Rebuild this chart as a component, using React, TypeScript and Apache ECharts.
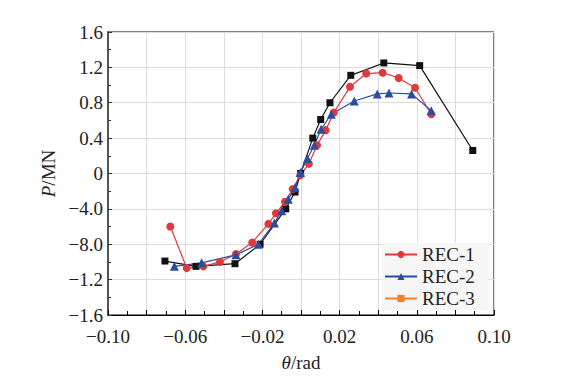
import React, { useEffect, useRef } from "react";
import * as echarts from "echarts";

const seriesNames = ["REC-1", "REC-2", "REC-3"];

const rec1: [number, number][] = [
  [-0.0677, -0.6], [-0.0592, -1.07], [-0.0506, -1.05], [-0.042, -1.0], [-0.0337, -0.91],
  [-0.0253, -0.78], [-0.0169, -0.57], [-0.013, -0.45], [-0.0083, -0.32], [-0.0043, -0.175],
  [-0.0004, -0.02], [0.0041, 0.11], [0.0083, 0.32], [0.0128, 0.49], [0.017, 0.69],
  [0.0254, 0.98], [0.0338, 1.13], [0.0423, 1.14], [0.0506, 1.08], [0.0591, 0.97], [0.0675, 0.67],
];

const rec2: [number, number][] = [
  [-0.0656, -1.05], [-0.0515, -1.01], [-0.0337, -0.92], [-0.0221, -0.8], [-0.0138, -0.56],
  [-0.01, -0.42], [-0.0066, -0.29], [-0.0031, -0.16], [-0.0003, 0.01], [0.0033, 0.17],
  [0.0069, 0.32], [0.0104, 0.5], [0.0157, 0.67], [0.0276, 0.82], [0.0395, 0.9],
  [0.0456, 0.91], [0.0573, 0.9], [0.0675, 0.71],
];

const rec3: [number, number][] = [
  [-0.0705, -0.99], [-0.0544, -1.05], [-0.0342, -1.02], [-0.0212, -0.8], [-0.0079, -0.4],
  [-0.0031, -0.21], [-0.0002, 0.0], [0.0061, 0.4], [0.0102, 0.61], [0.015, 0.8],
  [0.0258, 1.11], [0.0429, 1.25], [0.0615, 1.22], [0.089, 0.26],
];

const xTickLabels = ["\u22120.10", "", "\u22120.06", "", "\u22120.02", "", "0.02", "", "0.06", "", "0.10"];
const yTickLabels = ["\u22121.6", "\u22121.2", "\u22128.0", "\u22124.0", "0", "0.4", "0.8", "1.2", "1.6"];

const FONT = "'Liberation Serif', 'Times New Roman', serif";

export default function App() {
  const ref = useRef<HTMLDivElement>(null);
  useEffect(() => {
    if (!ref.current) return;
    const chart = echarts.init(ref.current, null, { renderer: "svg" });
    chart.setOption({
      animation: false,
      textStyle: { fontFamily: FONT },
      grid: {
        left: 108, right: 78, top: 32, bottom: 65,
        show: true, borderColor: "#000", borderWidth: 1,
      },
      legend: {
        orient: "vertical",
        left: 382,
        top: 243,
        padding: [2, 14, 2, 2],
        itemGap: 3,
        itemWidth: 32,
        itemHeight: 9,
        backgroundColor: "rgba(246,246,246,0.95)",
        textStyle: { fontFamily: FONT, fontSize: 19, color: "#222" },
        data: [
          { name: seriesNames[0] },
          { name: seriesNames[1] },
          { name: seriesNames[2], itemStyle: { color: "#f0822e" }, lineStyle: { color: "#f0822e" } },
        ],
      },
      xAxis: {
        type: "value",
        min: -0.1,
        max: 0.1,
        interval: 0.02,
        name: "{i|\u03b8}/rad",
        nameLocation: "middle",
        nameGap: 38,
        nameTextStyle: {
          fontFamily: FONT, fontSize: 19, color: "#222",
          rich: { i: { fontFamily: FONT, fontSize: 19, fontStyle: "italic", color: "#222" } },
        },
        axisLine: { onZero: false, lineStyle: { color: "#000", width: 1 } },
        axisTick: { inside: true, length: 5, lineStyle: { color: "#000" } },
        minorTick: { show: true, splitNumber: 2, length: 4, lineStyle: { color: "#000" } },
        axisLabel: {
          fontFamily: FONT, fontSize: 19, color: "#222", margin: 12,
          formatter: (v: number) => {
            const idx = Math.round((v + 0.1) / 0.02);
            return xTickLabels[idx] ?? "";
          },
        },
        splitLine: { show: true, lineStyle: { color: "#dcdcdc", width: 1 } },
      },
      yAxis: {
        type: "value",
        min: -1.6,
        max: 1.6,
        interval: 0.4,
        name: "{i|P}/MN",
        nameLocation: "middle",
        nameGap: 40,
        nameTextStyle: {
          fontFamily: FONT, fontSize: 19, color: "#222",
          rich: { i: { fontFamily: FONT, fontSize: 19, fontStyle: "italic", color: "#222" } },
        },
        axisLine: { onZero: false, lineStyle: { color: "#555", width: 2 } },
        axisTick: { inside: true, length: 4, lineStyle: { color: "#333" } },
        minorTick: { show: true, splitNumber: 2, length: 3, lineStyle: { color: "#333" } },
        axisLabel: {
          fontFamily: FONT, fontSize: 19, color: "#222", margin: 5,
          formatter: (v: number) => {
            const idx = Math.round((v + 1.6) / 0.4);
            return yTickLabels[idx] ?? "";
          },
        },
        splitLine: { show: true, lineStyle: { color: "#dcdcdc", width: 1 } },
      },
      series: [
        {
          name: seriesNames[2], type: "line", data: rec3,
          symbol: "rect", symbolSize: 7,
          itemStyle: { color: "#111" }, lineStyle: { color: "#111", width: 1.2 },
        },
        {
          name: seriesNames[0], type: "line", data: rec1,
          symbol: "circle", symbolSize: 8,
          itemStyle: { color: "#e0393b" }, lineStyle: { color: "#e0393b", width: 1.2 },
        },
        {
          name: seriesNames[1], type: "line", data: rec2,
          symbol: "triangle", symbolSize: 9,
          itemStyle: { color: "#2a4d9e" }, lineStyle: { color: "#2a4d9e", width: 1.2 },
        },
      ],
    });
    return () => chart.dispose();
  }, []);
  return <div ref={ref} style={{ width: 572, height: 380, position: "absolute", left: 0, top: 0 }} />;
}
